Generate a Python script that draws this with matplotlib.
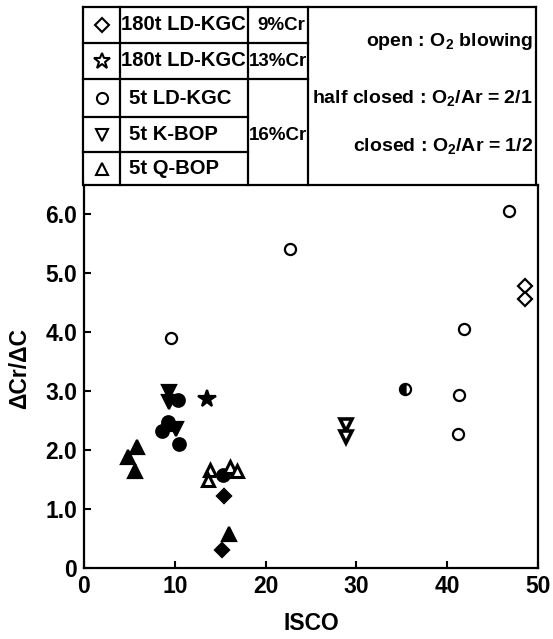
import matplotlib
matplotlib.use('Agg')
import matplotlib.pyplot as plt

plt.rcParams['font.family'] = ['Liberation Sans', 'DejaVu Sans']
plt.rcParams['mathtext.fontset'] = 'custom'
plt.rcParams['mathtext.rm'] = 'Liberation Sans:bold'
plt.rcParams['mathtext.it'] = 'Liberation Sans:bold'
plt.rcParams['mathtext.bf'] = 'Liberation Sans:bold'

# ---------------- data ----------------
diamond_open_x = [48.6, 48.6]
diamond_open_y = [4.78, 4.57]
diamond_closed_x = [15.4, 15.2]
diamond_closed_y = [1.22, 0.31]

star_closed_x = [13.5]
star_closed_y = [2.86]

circle_open_x = [22.7, 9.6, 46.8, 41.85, 41.3, 41.2]
circle_open_y = [5.41, 3.90, 6.06, 4.06, 2.94, 2.27]
circle_half_x = [35.4]
circle_half_y = [3.03]
circle_closed_x = [10.4, 10.5, 8.6, 9.3, 15.3]
circle_closed_y = [2.85, 2.11, 2.33, 2.47, 1.57]

kbop_open_x = [28.9, 28.9]
kbop_open_y = [2.42, 2.22]
kbop_closed_x = [9.4, 9.4, 10.1]
kbop_closed_y = [2.98, 2.82, 2.36]

qbop_closed_x = [5.8, 4.9, 5.6, 16.0, 9.0]
qbop_closed_y = [2.05, 1.88, 1.64, 0.57, 2.45]
qbop_open_x = [13.9, 13.7, 16.1, 16.9]
qbop_open_y = [1.67, 1.49, 1.71, 1.64]

xticks = [0, 10, 20, 30, 40, 50]
xticklabels = ['0', '10', '20', '30', '40', '50']
yticks = [0, 1, 2, 3, 4, 5, 6]
yticklabels = ['0', '1.0', '2.0', '3.0', '4.0', '5.0', '6.0']

furnace_labels = ['180t LD-KGC', '180t LD-KGC', '5t LD-KGC', '5t K-BOP', '5t Q-BOP']
furnace_markers = ['D', '*', 'o', 'v', '^']
cr_labels = ['9%Cr', '13%Cr', '16%Cr']
mode_labels = ['open : O$_2$ blowing', 'half closed : O$_2$/Ar = 2/1', 'closed : O$_2$/Ar = 1/2']

# ---------------- figure ----------------
W, H = 553, 639
fig = plt.figure(figsize=(W / 100, H / 100), dpi=100)
ax = fig.add_axes([84 / W, 1 - 568 / H, (538 - 84) / W, (568 - 185) / H])

fs = 16.5
ms = 9.5
mew = 1.6

def pts(x, y, m, fill, size=ms, **kw):
    if fill == 'full':
        ax.plot(x, y, ls='none', marker=m, ms=size, mfc='black', mec='black', mew=mew, **kw)
    elif fill == 'none':
        ax.plot(x, y, ls='none', marker=m, ms=size, mfc='white', mec='black', mew=mew, **kw)
    else:
        ax.plot(x, y, ls='none', marker=m, ms=size, mfc='black', mfcalt='white',
                fillstyle=fill, mec='black', mew=mew, **kw)

pts(diamond_open_x, diamond_open_y, 'D', 'none', size=7.5)
pts(diamond_closed_x, diamond_closed_y, 'D', 'full', size=7.5)
pts(star_closed_x, star_closed_y, '*', 'full', size=13)
pts(circle_open_x, circle_open_y, 'o', 'none', size=8)
pts(circle_half_x, circle_half_y, 'o', 'left', size=8)
pts(circle_closed_x, circle_closed_y, 'o', 'full', size=9)
ax.plot(kbop_open_x, kbop_open_y, ls='none', marker='v', ms=8, mfc='white', mec='black', mew=2.6)
pts(kbop_closed_x, kbop_closed_y, 'v', 'full', size=10)
pts(qbop_closed_x, qbop_closed_y, '^', 'full', size=10)
ax.plot(qbop_open_x, qbop_open_y, ls='none', marker='^', ms=9, mfc='white', mec='black', mew=2.2)

ax.set_xlim(0, 50)
ax.set_ylim(0, 6.5)
ax.set_xticks(xticks)
ax.set_xticklabels(xticklabels)
ax.set_yticks(yticks)
ax.set_yticklabels(yticklabels)
ax.tick_params(direction='in', length=5, width=1.5, labelsize=fs, pad=5)
for lab in ax.get_xticklabels() + ax.get_yticklabels():
    lab.set_fontweight('bold')
for s in ax.spines.values():
    s.set_linewidth(1.6)
ax.set_xlabel('ISCO', fontsize=fs, fontweight='bold', labelpad=10)
ax.set_ylabel('ΔCr/ΔC', fontsize=fs, fontweight='bold')
ax.yaxis.set_label_coords(-0.117, 0.52)

# ---------------- table legend ----------------
t = fig.add_axes([0, 0, 1, 1])
t.set_xlim(0, W)
t.set_ylim(H, 0)
t.axis('off')
lw = 1.6
x0, x1, x2, x3, x4 = 83, 120, 248, 308, 536
rows = [7, 43, 79, 117, 152, 185]

def line(xa, xb, ya, yb):
    t.plot([xa, xb], [ya, yb], color='black', lw=lw, solid_capstyle='projecting')

line(x0, x4, rows[0], rows[0])
line(x0, x0, rows[0], rows[-1])
line(x4, x4, rows[0], rows[-1])
for xv in (x1, x2, x3):
    line(xv, xv, rows[0], rows[-1])
for yv in rows[1:3]:
    line(x0, x3, yv, yv)
for yv in rows[3:5]:
    line(x0, x2, yv, yv)

tfs = 14.6
for i, (lab, mk) in enumerate(zip(furnace_labels, furnace_markers)):
    yc = (rows[i] + rows[i + 1]) / 2
    msz = 12 if mk == '*' else (7 if mk == 'D' else 8)
    t.plot([101.5], [yc], marker=mk, ms=msz, mfc='white', mec='black', mew=1.5, ls='none')
    xt = 121 if i < 2 else 129
    t.text(xt, yc, lab, fontsize=tfs, fontweight='bold', ha='left', va='center')

cfs = 13.5
t.text(257, (rows[0] + rows[1]) / 2, cr_labels[0], fontsize=cfs, fontweight='bold', ha='left', va='center')
t.text(249, (rows[1] + rows[2]) / 2, cr_labels[1], fontsize=cfs, fontweight='bold', ha='left', va='center')
t.text(249, 135, cr_labels[2], fontsize=cfs, fontweight='bold', ha='left', va='center')

mode_y = [41, 98, 146]
for lab, yv in zip(mode_labels, mode_y):
    t.text(533, yv, lab, fontsize=14, fontweight='bold', ha='right', va='center')

fig.savefig('out.png', dpi=100)
